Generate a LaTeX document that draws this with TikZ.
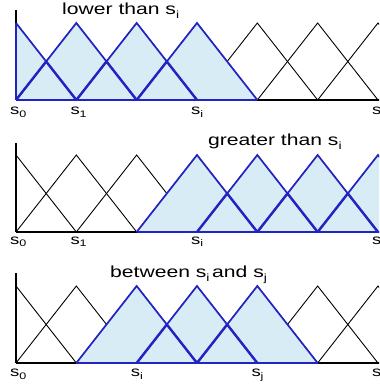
\documentclass[tikz,border=0pt]{standalone}
\usepackage{fontspec}
\setmainfont{Liberation Sans}
\newfontfamily\wide[FakeStretch=1.32]{Liberation Sans}
\definecolor{lb}{RGB}{215,236,245}
\definecolor{bl}{RGB}{35,35,195}
\newcommand\tsub[1]{\raisebox{-4pt}{\fontsize{10.5}{10.5}\selectfont #1}}
\newcommand\lsub[1]{\raisebox{-2.5pt}{\fontsize{9.5}{9.5}\selectfont #1}}
\tikzset{
  thinb/.style={black,line width=0.9pt},
  blueline/.style={bl,line width=1.7pt},
  bluethick/.style={bl,line width=2.4pt},
  axisline/.style={black,line width=1.8pt},
  ttl/.style={font=\wide\fontsize{16}{16}\selectfont,inner sep=0pt,anchor=base west},
  lab/.style={font=\wide\fontsize{14}{14}\selectfont,inner sep=0pt,anchor=base west}
}
\newcommand\blacktris{%
  \begin{scope}
    \clip (16,-100) rectangle (381,3);
    \foreach \k in {0,...,6}{
      \pgfmathsetmacro\p{16+60.33*\k}
      \draw[thinb] (\p-60.33,0) -- (\p,-77) -- (\p+60.33,0);
    }
  \end{scope}
  \draw[axisline] (16,0) -- (381,0);
}
\newcommand\shadetris[2]{%
  \begin{scope}
    \clip (16,-100) rectangle (381,3);
    \pgfmathsetmacro\pa{16+60.33*#1}
    \pgfmathsetmacro\pb{16+60.33*#2}
    \fill[lb] (\pa-60.33,0) -- (\pa,-77)
      \foreach \k in {#1,...,#2}{ -- ({16+60.33*\k},-77) -- ({16+60.33*\k+30.165},-38.5)}
      -- (\pb+60.33,0) -- cycle;
    \foreach \k in {#1,...,#2}{
      \draw[blueline] ({16+60.33*\k-60.33},0) -- ({16+60.33*\k},-77) -- ({16+60.33*\k+60.33},0);
    }
    \foreach \k in {#1,...,#2}{
      \ifnum\k<#2\relax
        \draw[bluethick] ({16+60.33*\k},0) -- ({16+60.33*\k+30.165},-38.5) -- ({16+60.33*\k+60.33},0);
      \fi
    }
    \draw[blueline] (\pa-60.33,0) -- (\pb+60.33,0);
  \end{scope}
}
\begin{document}
\begin{tikzpicture}[x=1pt,y=-1pt]
\clip (0,0) rectangle (379,387);
\fill[white] (0,0) rectangle (379,387);
% panel 1
\begin{scope}[shift={(0,100)}]
  \blacktris
  \shadetris{0}{3}
  \draw[axisline] (16,-90) -- (16,0);
  \draw[blueline] (16,-77) -- (16,0);
  \node[ttl] (t1) at (62,-85) {lower than s\tsub{i}};
  \node[lab] (a0) at (10,15) {s\lsub{0}};
  \node[lab] (a1) at (70.3,15) {s\lsub{1}};
  \node[lab] (ai) at (191,15) {s\lsub{i}};
  \node[lab] (ag) at (372,15) {s\lsub{g}};
\end{scope}
% panel 2
\begin{scope}[shift={(0,232)}]
  \blacktris
  \shadetris{3}{6}
  \draw[axisline] (16,-89) -- (16,0);
  \node[ttl] (t2) at (208,-86) {greater than s\tsub{i}};
  \node[lab] (b0) at (10,12) {s\lsub{0}};
  \node[lab] (b1) at (70.3,12) {s\lsub{1}};
  \node[lab] (bi) at (191,12) {s\lsub{i}};
  \node[lab] (bg) at (372,12) {s\lsub{g}};
\end{scope}
% panel 3
\begin{scope}[shift={(0,363)}]
  \blacktris
  \shadetris{2}{4}
  \draw[axisline] (16,-90) -- (16,0);
  \node[ttl] (t3) at (110,-85.5) {between s\tsub{i}\,and s\tsub{j}};
  \node[lab] (c0) at (10,13.5) {s\lsub{0}};
  \node[lab] (ci) at (130.7,13.5) {s\lsub{i}};
  \node[lab] (cj) at (251.3,13.5) {s\lsub{j}};
  \node[lab] (cg) at (372,13.5) {s\lsub{g}};
\end{scope}
\end{tikzpicture}
\end{document}
